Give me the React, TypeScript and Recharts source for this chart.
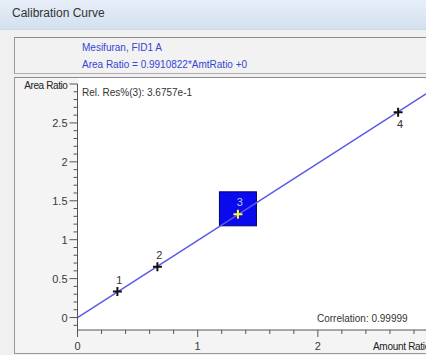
import React from 'react';
import { ComposedChart, XAxis, YAxis, Scatter, Line, Customized } from 'recharts';

// ---- data ----
const pointIds = ['1', '2', '3', '4'];
const amtRatio = [0.332, 0.665, 1.335, 2.668];
const areaRatio = [0.333, 0.654, 1.326, 2.637];
const highlightedId = '3';

const fitAmt = [0, 2.9];
const fitArea = [0, 2.874];

const xMajorTicks = [0, 1, 2];
const xMinorTicks = [0.2, 0.4, 0.6, 0.8, 1.2, 1.4, 1.6, 1.8, 2.2, 2.4, 2.6, 2.8];
const yMajorTicks = [0, 0.5, 1, 1.5, 2, 2.5];
const yMinorTicks = [-0.1, 0.1, 0.2, 0.3, 0.4, 0.6, 0.7, 0.8, 0.9, 1.1, 1.2, 1.3, 1.4, 1.6, 1.7, 1.8, 1.9, 2.1, 2.2, 2.3, 2.4, 2.6, 2.7, 2.8, 2.9];
const yTopTick = 3;

const titleText = 'Calibration Curve';
const compoundText = 'Mesifuran, FID1 A';
const equationText = 'Area Ratio = 0.9910822*AmtRatio +0';
const relResText = 'Rel. Res%(3): 3.6757e-1';
const correlationText = 'Correlation: 0.99999';
const yAxisTitle = 'Area Ratio';
const xAxisTitle = 'Amount Ratio';

const points = pointIds.map((id, i) => ({ x: amtRatio[i], y: areaRatio[i], id }));
const highlight = points.filter((p) => p.id === highlightedId);
const fitLine = fitAmt.map((x, i) => ({ x, y: fitArea[i] }));

const FONT = '"Liberation Sans", Arial, sans-serif';
const AXIS = '#555';
const TXT = '#3a3a3a';

const YTick = (props: any) => {
  const { x, y, payload } = props;
  const v = payload.value;
  const major = yMajorTicks.includes(v);
  const top = v === yTopTick;
  const len = major || top ? 8 : 4;
  return (
    <g>
      <line x1={x - len} x2={x} y1={y} y2={y} stroke={AXIS} strokeWidth={1} />
      {major && (
        <text x={x - 10} y={y} dy={4} textAnchor="end" fontSize={11} fill={TXT} fontFamily={FONT}>
          {v}
        </text>
      )}
      {top && (
        <text x={x - 10} y={y} dy={5} textAnchor="end" fontSize={10} letterSpacing={-0.4} fill="#222" fontFamily={FONT}>
          {yAxisTitle}
        </text>
      )}
    </g>
  );
};

const XTick = (props: any) => {
  const { x, y, payload } = props;
  const v = payload.value;
  const major = xMajorTicks.includes(v);
  const len = major ? 7 : 4;
  return (
    <g>
      <line x1={x} x2={x} y1={y} y2={y + len} stroke={AXIS} strokeWidth={1} />
      {major && (
        <text x={x} y={y + 16} dy={4} textAnchor="middle" fontSize={11} fill={TXT} fontFamily={FONT}>
          {v}
        </text>
      )}
    </g>
  );
};

const BoxShape = (props: any) => {
  const { cx, cy } = props;
  return <rect x={cx - 18.5} y={cy - 22.5} width={37} height={34} fill="#0a0aee" stroke="#000066" strokeWidth={1} />;
};

const PointShape = (props: any) => {
  const { cx, cy, payload } = props;
  const hi = payload.id === highlightedId;
  const below = payload.id === '4';
  const col = hi ? '#ffff20' : '#111';
  const s = 4.5;
  return (
    <g>
      <line x1={cx - s} x2={cx + s} y1={cy} y2={cy} stroke={col} strokeWidth={2} />
      <line x1={cx} x2={cx} y1={cy - s} y2={cy + s} stroke={col} strokeWidth={2} />
      <text
        x={cx + 2}
        y={below ? cy + 12 : cy - 12}
        dy={4}
        textAnchor="middle"
        fontSize={11}
        fill={hi ? '#b8c8ff' : '#333'}
        fontFamily={FONT}
      >
        {payload.id}
      </text>
    </g>
  );
};

const Overlay = () => (
  <g fontFamily={FONT}>
    <text x={82} y={92} dy={3.5} fontSize={10} fill="#333">
      {relResText}
    </text>
    <text x={317} y={318} dy={3.5} fontSize={10} fill="#333">
      {correlationText}
    </text>
    <text x={373} y={346} dy={3.5} fontSize={10} letterSpacing={-0.3} fill="#222">
      {xAxisTitle}
    </text>
  </g>
);

export default function App() {
  return (
    <div style={{ position: 'absolute', left: 0, top: 0, width: 426, height: 355, overflow: 'hidden', background: '#f0f0f0', fontFamily: FONT }}>
      {/* title bar */}
      <div
        style={{
          position: 'absolute', left: 0, top: 0, width: 426, height: 29,
          background: 'linear-gradient(#e7eef8, #d4e0ef)', borderBottom: '1px solid #cdd8e6',
        }}
      >
        <div style={{ position: 'absolute', left: 12, top: 6, fontSize: 12, color: '#333', whiteSpace: 'nowrap' }}>{titleText}</div>
      </div>
      {/* info box */}
      <div
        style={{
          position: 'absolute', left: 14, top: 37, width: 430, height: 35,
          background: '#f2f2f2', borderTop: '1px solid #8c8c8c', borderLeft: '1px solid #9a9a9a', borderBottom: '1px solid #b0b0b0',
        }}
      >
        <div style={{ position: 'absolute', left: 67, top: 1, fontSize: 10, lineHeight: '17px', color: '#3246d2', whiteSpace: 'nowrap' }}>
          <div>{compoundText}</div>
          <div>{equationText}</div>
        </div>
      </div>
      {/* plot frame */}
      <div
        style={{
          position: 'absolute', left: 14, top: 77, width: 430, height: 275,
          background: '#f4f4f4', borderTop: '1px solid #8c8c8c', borderLeft: '1px solid #9a9a9a', borderBottom: '1px solid #9a9a9a',
        }}
      />
      {/* white plot area */}
      <div style={{ position: 'absolute', left: 78, top: 78, width: 360, height: 252, background: '#ffffff' }} />
      <div style={{ position: 'absolute', left: 0, top: 0 }}>
        <ComposedChart width={426} height={355} margin={{ top: 84, right: 0, bottom: 0, left: 0.5 }}>
          <XAxis
            type="number"
            dataKey="x"
            domain={[0, 2.9]}
            allowDataOverflow
            ticks={[...xMajorTicks, ...xMinorTicks].sort((a, b) => a - b)}
            interval={0}
            tickSize={0}
            tickMargin={0}
            tickLine={false}
            axisLine={{ stroke: AXIS }}
            tick={<XTick />}
            height={25}
          />
          <YAxis
            type="number"
            dataKey="y"
            domain={[-0.16, 3]}
            allowDataOverflow
            ticks={[...yMinorTicks, ...yMajorTicks, yTopTick].sort((a, b) => a - b)}
            interval={0}
            tickSize={0}
            tickMargin={0}
            tickLine={false}
            axisLine={{ stroke: AXIS }}
            tick={<YTick />}
            width={77}
          />
          <Scatter data={highlight} dataKey="y" shape={<BoxShape />} isAnimationActive={false} {...({ zIndex: 100 } as any)} />
          <Line data={fitLine} dataKey="y" type="linear" stroke="#5a5ae8" strokeWidth={1.5} dot={false} activeDot={false} isAnimationActive={false} {...({ zIndex: 400 } as any)} />
          <Scatter data={points} dataKey="y" shape={<PointShape />} isAnimationActive={false} {...({ zIndex: 600 } as any)} />
          <Customized component={Overlay} />
        </ComposedChart>
      </div>
    </div>
  );
}
